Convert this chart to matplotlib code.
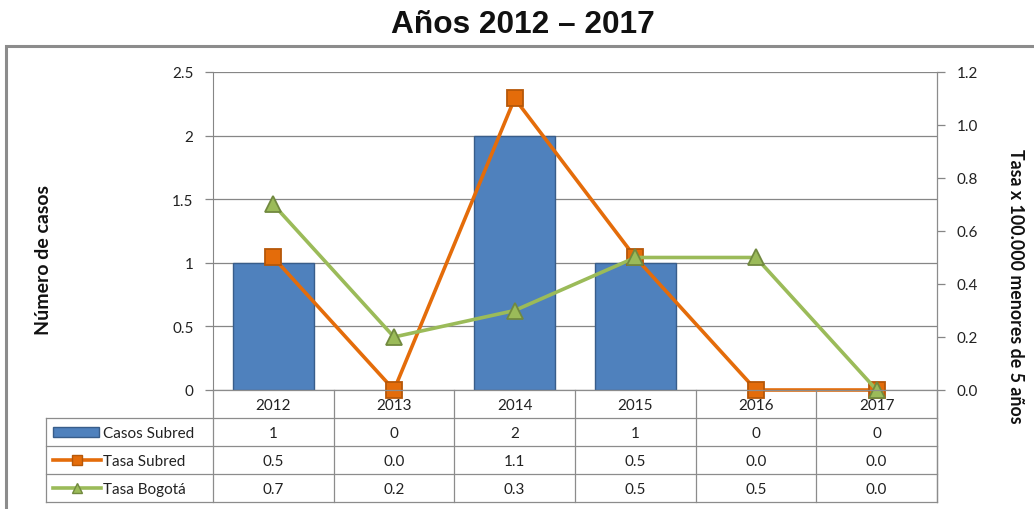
import matplotlib
matplotlib.use("Agg")
import matplotlib.pyplot as plt
from matplotlib.lines import Line2D
from matplotlib.patches import Rectangle
import matplotlib.transforms as mtransforms

# ---- data ----
years = ["2012", "2013", "2014", "2015", "2016", "2017"]
casos_subred = [1, 0, 2, 1, 0, 0]
tasa_subred = [0.5, 0.0, 1.1, 0.5, 0.0, 0.0]
tasa_bogota = [0.7, 0.2, 0.3, 0.5, 0.5, 0.0]
series_names = ["Casos Subred", "Tasa Subred", "Tasa Bogotá"]
title = "Años 2012 – 2017"
ylabel_left = "Número de casos"
ylabel_right = "Tasa x 100.000 menores de 5 años"

BAR_C, BAR_E = "#4F81BD", "#385D8A"
OR_C, OR_E = "#E46C0A", "#B65708"
GR_C, GR_E = "#9BBB59", "#71893F"
GRID = "#868686"

plt.rcParams['font.family'] = ['Lato', 'DejaVu Sans']

W, H = 1034, 510
fig = plt.figure(figsize=(W / 100, H / 100), dpi=100)

def fx(px):
    return px / W

def fy(py):
    return 1 - py / H

L, R, T, B = 213, 937, 73, 391
ax = fig.add_axes([fx(L), fy(B), fx(R) - fx(L), fy(T) - fy(B)])
ax2 = ax.twinx()

x = list(range(len(years)))
edge_cols = [BAR_E if v != 0 else "none" for v in casos_subred]
ax.bar(x, casos_subred, width=0.67, color=BAR_C, edgecolor=edge_cols, linewidth=1, zorder=2)
ax.set_xlim(-0.5, len(years) - 0.5)
ax.set_ylim(0, 2.5)
ax.set_yticks([0, 0.5, 1, 1.5, 2, 2.5])
ax.set_yticklabels(["0", "0.5", "1", "1.5", "2", "2.5"])
ax.yaxis.grid(True, color=GRID, linewidth=0.9, zorder=0)
ax.set_axisbelow(True)
ax.set_xticks([])

ax2.plot(x, tasa_subred, color=OR_C, linewidth=2.6, marker="s", markersize=11,
         markerfacecolor=OR_C, markeredgecolor=OR_E, markeredgewidth=1.3, zorder=4, clip_on=False)
ax2.plot(x, tasa_bogota, color=GR_C, linewidth=2.6, marker="^", markersize=12,
         markerfacecolor=GR_C, markeredgecolor=GR_E, markeredgewidth=1.3, zorder=5, clip_on=False)
ax2.set_ylim(0, 1.2)
ax2.set_yticks([0, 0.2, 0.4, 0.6, 0.8, 1.0, 1.2])
ax2.set_yticklabels([f"{v:.1f}" for v in [0, 0.2, 0.4, 0.6, 0.8, 1.0, 1.2]])
ax2.set_zorder(ax.get_zorder() + 1)
ax2.patch.set_visible(False)

for a in (ax, ax2):
    for s in ("top", "bottom"):
        a.spines[s].set_visible(False)
    a.spines["left"].set_color(GRID)
    a.spines["right"].set_color(GRID)
    a.tick_params(axis="y", colors=GRID, labelcolor="#222222", labelsize=11, length=6, width=0.9, pad=8)
ax.spines["right"].set_visible(False)
ax2.spines["left"].set_visible(False)
ax2.spines["right"].set_visible(False)

fig.text(fx(44), fy(260), ylabel_left, rotation=90, ha="center", va="center",
         fontsize=14, fontweight="bold", color="#111111")
fig.text(fx(1016), fy(286), ylabel_right, rotation=-90, ha="center", va="center",
         fontsize=12.8, fontweight="bold", color="#111111")
fig.text(fx(523), fy(25), title, ha="center", va="center", fontsize=22.8,
         fontweight="bold", family=["Liberation Sans", "DejaVu Sans"], color="#111111")

# outer frame
fig.add_artist(Rectangle((fx(6), fy(H + 10)), fx(W + 20) - fx(6), fy(47) - fy(H + 10),
                         transform=fig.transFigure, fill=False, edgecolor="#8C8C8C",
                         linewidth=2.2, clip_on=False))

# ---- data table ----
bt = mtransforms.blended_transform_factory(ax.transData, fig.transFigure)
row_h = 28
rows_y = [B, B + row_h, B + 2 * row_h, B + 3 * row_h, B + 4 * row_h]
TL = 46
lc = "#8C8C8C"
lw = 0.9
fig.add_artist(Line2D([fx(R), fx(R)], [fy(T), fy(rows_y[-1])], transform=fig.transFigure,
                      color=lc, linewidth=lw))
for i, yy in enumerate(rows_y):
    x0 = L if i == 0 else TL
    fig.add_artist(Line2D([fx(x0), fx(R)], [fy(yy), fy(yy)], transform=fig.transFigure,
                          color=lc, linewidth=lw))
for b in [i - 0.5 for i in range(len(years) + 1)]:
    fig.add_artist(Line2D([b, b], [fy(B), fy(rows_y[-1])], transform=bt, color=lc, linewidth=lw))
fig.add_artist(Line2D([fx(TL), fx(TL)], [fy(rows_y[1]), fy(rows_y[-1])], transform=fig.transFigure,
                      color=lc, linewidth=lw))

for xi, yr in zip(x, years):
    fig.text(xi, fy(B + row_h / 2 + 1), yr, transform=bt, ha="center", va="center",
             fontsize=11, color="#222222")

table_vals = [
    [str(v) for v in casos_subred],
    [f"{v:.1f}" for v in tasa_subred],
    [f"{v:.1f}" for v in tasa_bogota],
]
for r, vals in enumerate(table_vals):
    yc = rows_y[r + 1] + row_h / 2 + 1
    for xi, v in zip(x, vals):
        fig.text(xi, fy(yc), v, transform=bt, ha="center", va="center",
                 fontsize=11, color="#222222")
    fig.text(fx(103), fy(yc), series_names[r], ha="left", va="center",
             fontsize=11, color="#222222")

# legend icons
yc0 = rows_y[1] + row_h / 2
fig.add_artist(Rectangle((fx(53), fy(yc0 + 5)), fx(99) - fx(53), fy(yc0 - 5) - fy(yc0 + 5),
                         transform=fig.transFigure, facecolor=BAR_C, edgecolor=BAR_E, linewidth=1))
yc1 = rows_y[2] + row_h / 2
fig.add_artist(Line2D([fx(53), fx(101)], [fy(yc1), fy(yc1)], transform=fig.transFigure,
                      color=OR_C, linewidth=2.6))
fig.add_artist(Line2D([fx(77)], [fy(yc1)], transform=fig.transFigure, color=OR_C, marker="s",
                      markersize=7, markerfacecolor=OR_C, markeredgecolor=OR_E, markeredgewidth=1))
yc2 = rows_y[3] + row_h / 2
fig.add_artist(Line2D([fx(53), fx(101)], [fy(yc2), fy(yc2)], transform=fig.transFigure,
                      color=GR_C, linewidth=2.6))
fig.add_artist(Line2D([fx(77)], [fy(yc2)], transform=fig.transFigure, color=GR_C, marker="^",
                      markersize=7, markerfacecolor=GR_C, markeredgecolor=GR_E, markeredgewidth=1))

fig.savefig("out.png", dpi=100)
